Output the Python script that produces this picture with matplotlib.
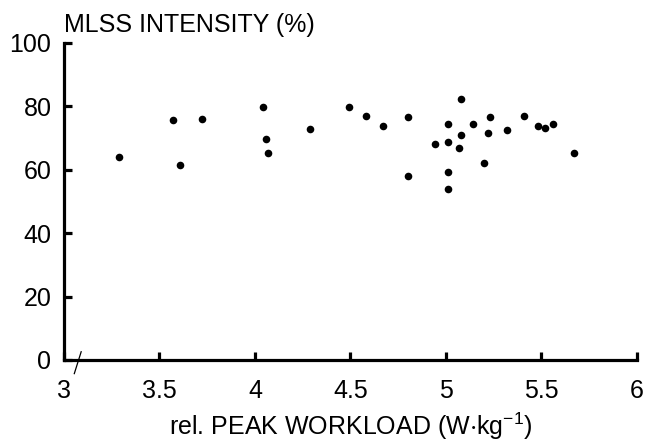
import matplotlib
matplotlib.use("Agg")
import matplotlib.pyplot as plt

# relative peak workload (W/kg) vs MLSS intensity (% of peak)
peak_workload = [3.29, 3.57, 3.61, 3.72, 4.04, 4.06, 4.07, 4.29, 4.49, 4.58,
                 4.67, 4.80, 4.80, 4.94, 5.01, 5.01, 5.01, 5.01, 5.08, 5.08,
                 5.07, 5.14, 5.20, 5.22, 5.23, 5.32, 5.41, 5.48, 5.52, 5.56,
                 5.67]
mlss_intensity = [63.9, 75.8, 61.4, 76.1, 79.8, 69.7, 65.4, 73.0, 79.7, 77.0,
                  73.9, 76.7, 58.1, 68.1, 74.5, 68.9, 59.3, 53.8, 82.2, 71.0,
                  67.0, 74.5, 62.1, 71.5, 76.7, 72.5, 77.0, 73.8, 73.3, 74.4,
                  65.3]

x_ticks = [3, 3.5, 4, 4.5, 5, 5.5, 6]
x_tick_labels = ["3", "3.5", "4", "4.5", "5", "5.5", "6"]
y_ticks = [0, 20, 40, 60, 80, 100]

plt.rcParams["font.family"] = ["Liberation Sans", "DejaVu Sans"]
plt.rcParams["mathtext.default"] = "regular"

fig = plt.figure(figsize=(6.47, 4.41), dpi=100)
ax = fig.add_axes([0.0989, 0.1837, 0.8856, 0.7188])

ax.scatter(peak_workload, mlss_intensity, s=30, color="black", zorder=3,
           linewidths=0)

ax.set_xlim(3, 6)
ax.set_ylim(0, 100)
ax.set_xticks(x_ticks)
ax.set_xticklabels(x_tick_labels)
ax.set_yticks(y_ticks)

for side in ("top", "right"):
    ax.spines[side].set_visible(False)
for side in ("left", "bottom"):
    ax.spines[side].set_linewidth(2.3)
    ax.spines[side].set_capstyle("projecting")

ax.tick_params(axis="both", direction="in", length=6, width=2.3,
               labelsize=18, color="black")
ax.tick_params(axis="x", pad=14)
ax.tick_params(axis="y", pad=9)

# axis break mark near the origin
ax.plot([0.018, 0.030], [-0.043, 0.026], transform=ax.transAxes,
        color="black", lw=0.9, clip_on=False)

ax.text(0.0, 1.035, "MLSS INTENSITY (%)", transform=ax.transAxes,
        fontsize=18, ha="left", va="baseline")
ax.set_xlabel(r"rel. PEAK WORKLOAD (W$\cdot$kg$^{-1}$)", fontsize=18,
              labelpad=5)

fig.savefig("out.png", dpi=100)
